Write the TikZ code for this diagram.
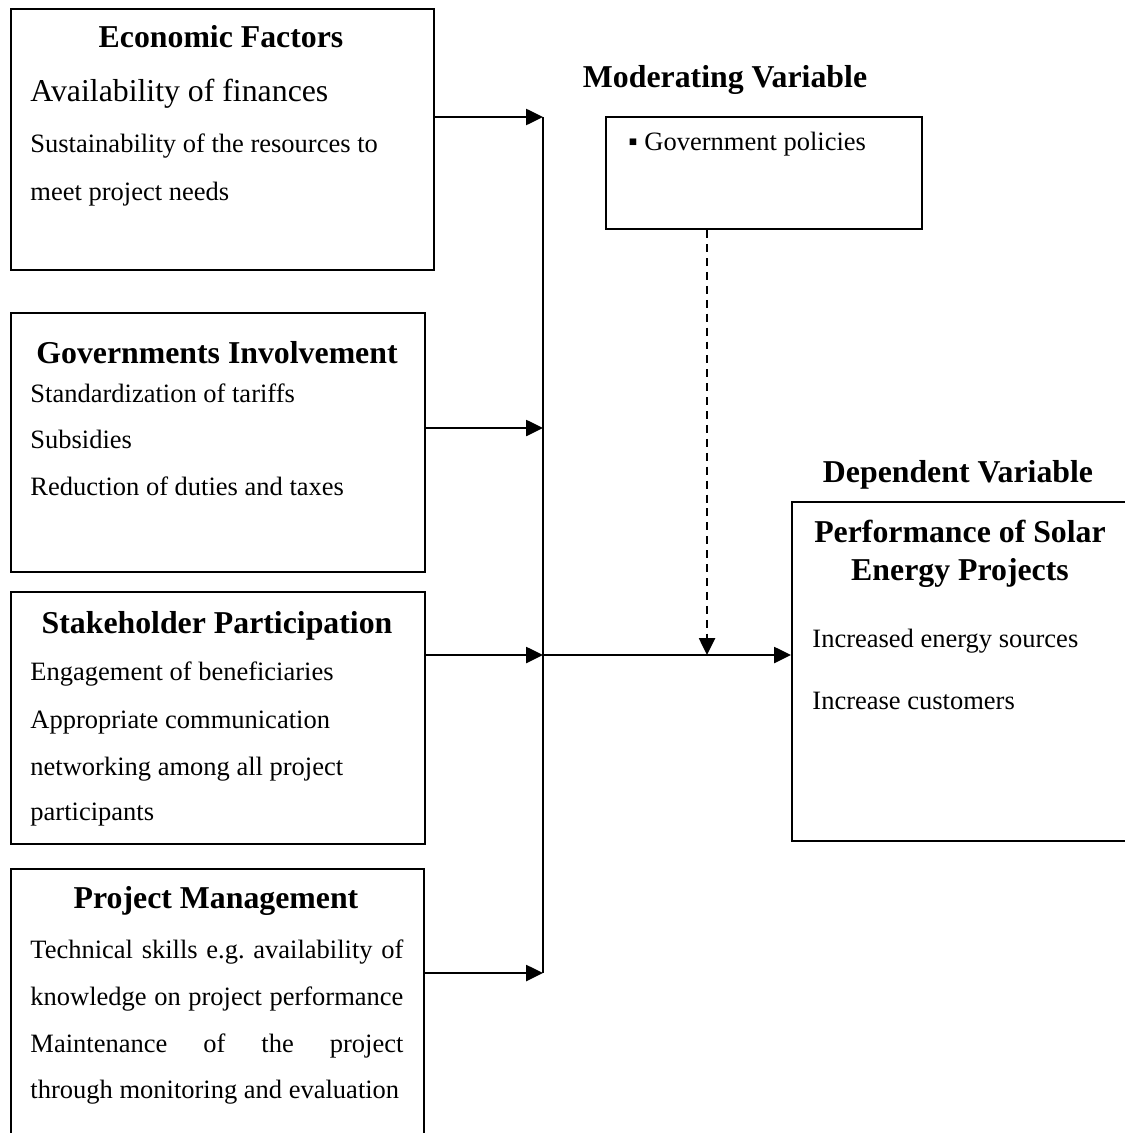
\documentclass[tikz,border=0pt]{standalone}
\usepackage{fontspec}
\setmainfont{Liberation Serif}
\usetikzlibrary{arrows.meta}
\frenchspacing
\newlength{\px}
\setlength{\px}{0.4528pt}
\tikzset{
  box/.style={draw, line width=1pt, rectangle, inner sep=0pt, anchor=north west},
  ttl/.style={anchor=base, inner sep=0pt, font=\fontsize{14.4}{16}\selectfont\bfseries},
  body/.style={anchor=base west, inner sep=0pt, font=\fontsize{12}{14}\selectfont},
  bigbody/.style={anchor=base west, inner sep=0pt, font=\fontsize{14.4}{16}\selectfont},
  conn/.style={line width=1pt},
  arr/.style={line width=1pt, -{Triangle[length=7.6pt, width=7.2pt]}},
  darr/.style={line width=1pt, dash pattern=on 3.6pt off 2.7pt, -{Triangle[length=7.6pt, width=7.2pt]}}
}
\begin{document}
\begin{tikzpicture}[x=0.4528pt, y=-0.4528pt]
\useasboundingbox (0,0) rectangle (1125,1133);
\clip (0,0) rectangle (1125,1133);
% boxes
\node[box, minimum width=423\px, minimum height=261\px] (ef) at (10,8) {};
\node[box, minimum width=414\px, minimum height=259\px] (gi) at (10,312) {};
\node[box, minimum width=414\px, minimum height=252\px] (sp) at (10,591) {};
\node[box, minimum width=413\px, minimum height=290\px] (pm) at (10,868) {};
\node[box, minimum width=316\px, minimum height=112\px] (mv) at (605,116) {};
\node[box, minimum width=339\px, minimum height=339\px] (dv) at (791,501) {};
% Economic Factors
\node[ttl] (eft) at (221,48) {Economic Factors};
\node[bigbody] (ef1) at (30,102) {Availability of finances};
\node[body] (ef2) at (30,153) {Sustainability of the resources to};
\node[body] (ef3) at (30,200) {meet project needs};
% Governments Involvement
\node[ttl] (git) at (217,363) {Governments Involvement};
\node[body] (gi1) at (30,402) {Standardization of tariffs};
\node[body] (gi2) at (30,448) {Subsidies};
\node[body] (gi3) at (30,495) {Reduction of duties and taxes};
% Stakeholder Participation
\node[ttl] (spt) at (217,633) {Stakeholder Participation};
\node[body] (sp1) at (30,680) {Engagement of beneficiaries};
\node[body] (sp2) at (30,728) {Appropriate communication};
\node[body] (sp3) at (30,775) {networking among all project};
\node[body] (sp4) at (30,820) {participants};
% Project Management
\node[ttl] (pmt) at (216,908) {Project Management};
\node[body] (pm1) at (30,958) {\makebox[373\px][s]{Technical skills e.g. availability of}};
\node[body] (pm2) at (30,1005) {\makebox[373\px][s]{knowledge on project performance}};
\node[body] (pm3) at (30,1052) {\makebox[373\px][s]{Maintenance of the project}};
\node[body] (pm4) at (30,1098) {through monitoring and evaluation};
% Moderating
\node[ttl] (mvt) at (725,88) {Moderating Variable};
\node[body] (mv1) at (628,150) {▪ Government policies};
% Dependent
\node[ttl] (dvt) at (958,482) {Dependent Variable};
\node[ttl] (dv1) at (960,542) {Performance of Solar};
\node[ttl] (dv2) at (960,580) {Energy Projects};
\node[body] (dv3) at (812,647) {Increased energy sources};
\node[body] (dv4) at (812,709) {Increase customers};
% connectors
\coordinate (j1) at (543,117);
\coordinate (j2) at (543,428);
\coordinate (j3) at (543,655);
\coordinate (j4) at (543,973);
\coordinate (jd) at (707,655);
\draw[conn] (j1) -- (j4);
\draw[arr] (ef.east |- j1) -- (j1);
\draw[arr] (gi.east |- j2) -- (j2);
\draw[arr] (sp.east |- j3) -- (j3);
\draw[arr] (pm.east |- j4) -- (j4);
\draw[arr] (j3) -- (dv.west |- j3);
\draw[darr] (mv.south -| jd) -- (jd);
\end{tikzpicture}
\end{document}
